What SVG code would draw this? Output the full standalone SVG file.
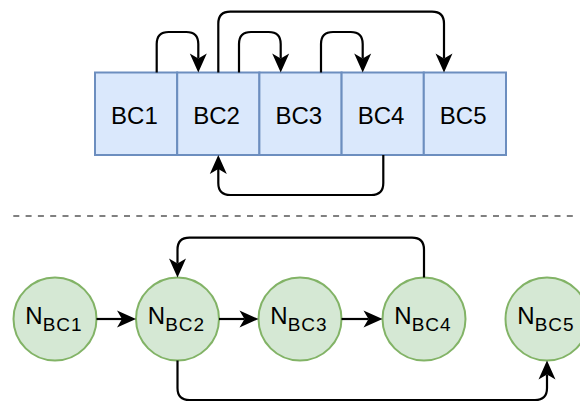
<svg xmlns="http://www.w3.org/2000/svg" width="580" height="403" viewBox="0 0 580 403">
<style>
.box{fill:#dae8fc;stroke:#6c8ebf;stroke-width:2}
.circ{fill:#d5e8d4;stroke:#82b366;stroke-width:2}
.lbl{font-family:"Liberation Sans",Arial,sans-serif;font-size:24px;fill:#000;text-anchor:middle}
.conn{fill:none;stroke:#000;stroke-width:2.2;marker-end:url(#arr)}
.sub{font-size:19px;letter-spacing:1px}
</style>
<defs>
<marker id="arr" markerUnits="userSpaceOnUse" viewBox="-6 -10 22 20" refX="0" refY="0" markerWidth="22" markerHeight="20" orient="auto">
<path d="M-5,-8.5 L14,0 L-5,8.5 L0,0 Z" fill="#000"/>
</marker>
</defs>
<rect width="580" height="403" fill="#fff"/>
<g id="nodes-top">
<g id="bc1"><rect class="box" x="95" y="72.5" width="82.2" height="82.5"/><text class="lbl" x="134.4" y="124.3">BC1</text></g>
<g id="bc2"><rect class="box" x="177.2" y="72.5" width="82.2" height="82.5"/><text class="lbl" x="216.6" y="124.3">BC2</text></g>
<g id="bc3"><rect class="box" x="259.4" y="72.5" width="82.2" height="82.5"/><text class="lbl" x="298.8" y="124.3">BC3</text></g>
<g id="bc4"><rect class="box" x="341.6" y="72.5" width="82.2" height="82.5"/><text class="lbl" x="381" y="124.3">BC4</text></g>
<g id="bc5"><rect class="box" x="423.8" y="72.5" width="82.2" height="82.5"/><text class="lbl" x="463.2" y="124.3">BC5</text></g>
</g>
<g id="nodes-bottom">
<g id="n1"><circle class="circ" cx="55" cy="319" r="41.5"/><text class="lbl" x="54" y="324">N<tspan class="sub" dy="6.7">BC1</tspan></text></g>
<g id="n2"><circle class="circ" cx="177.5" cy="319" r="41.5"/><text class="lbl" x="176.5" y="324">N<tspan class="sub" dy="6.7">BC2</tspan></text></g>
<g id="n3"><circle class="circ" cx="300" cy="319" r="41.5"/><text class="lbl" x="299" y="324">N<tspan class="sub" dy="6.7">BC3</tspan></text></g>
<g id="n4"><circle class="circ" cx="424" cy="319" r="41.5"/><text class="lbl" x="423" y="324">N<tspan class="sub" dy="6.7">BC4</tspan></text></g>
<g id="n5"><circle class="circ" cx="547" cy="319" r="41.5"/><text class="lbl" x="546" y="324">N<tspan class="sub" dy="6.7">BC5</tspan></text></g>
</g>
<line id="separator" x1="13.3" y1="216" x2="576" y2="216" stroke="#808080" stroke-width="2" stroke-dasharray="6 6.3"/>
<g id="connectors">
<path class="conn" d="M156.7,72.5 V44 Q156.7,32 168.7,32 H186.3 Q198.3,32 198.3,44 V58.5"/>
<path class="conn" d="M218.3,72.5 V23.7 Q218.3,11.7 230.3,11.7 H432 Q444,11.7 444,23.7 V58.5"/>
<path class="conn" d="M239,72.5 V44 Q239,32 251,32 H268.7 Q280.7,32 280.7,44 V58.5"/>
<path class="conn" d="M321,72.5 V44 Q321,32 333,32 H350.7 Q362.7,32 362.7,44 V58.5"/>
<path class="conn" d="M383.3,155 V183 Q383.3,195 371.3,195 H230.3 Q218.3,195 218.3,183 V169"/>
<path class="conn" d="M96.5,319 H122"/>
<path class="conn" d="M219,319 H244.5"/>
<path class="conn" d="M341.5,319 H368.5"/>
<path class="conn" d="M424,277.5 V249.7 Q424,237.7 412,237.7 H189.5 Q177.5,237.7 177.5,249.7 V263.5"/>
<path class="conn" d="M177.5,360.5 V388 Q177.5,400 189.5,400 H535 Q547,400 547,388 V374.5"/>
</g>
</svg>
